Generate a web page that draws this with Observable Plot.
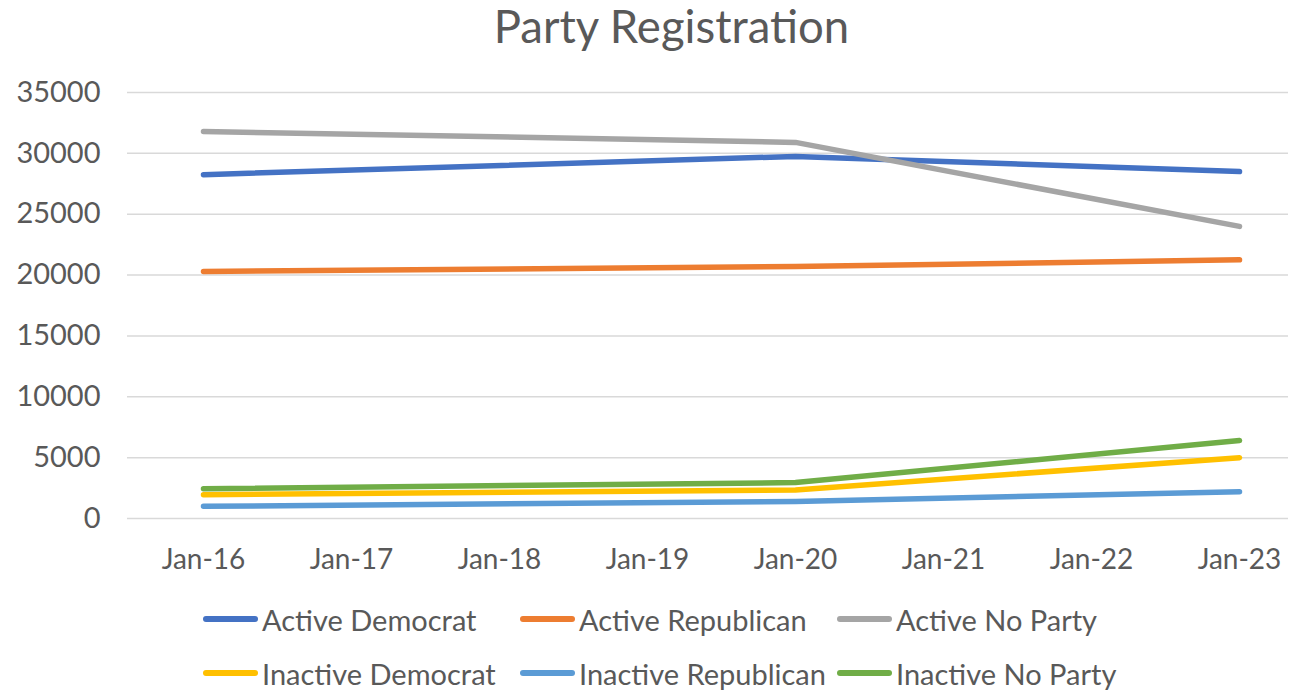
<!DOCTYPE html>
<html>
<head>
<meta charset="utf-8">
<script src="https://cdn.jsdelivr.net/npm/d3@7"></script>
<script src="https://cdn.jsdelivr.net/npm/@observablehq/plot@0.6"></script>
<style>
  html, body { margin: 0; padding: 0; background: #fff; width: 1291px; height: 690px; overflow: hidden; }
  body { font-family: Lato, "Open Sans", sans-serif; color: #595959; position: relative; }
  #title { position: absolute; top: 0; left: 0; width: 1291px; height: 56px; font-size: 45.5px; line-height: 52px; text-align: center; padding-left: 52px; box-sizing: border-box; color: #595959; }
  #chart { position: absolute; top: 60px; left: 0; }
  #legend { position: absolute; top: 598px; left: 203px; display: grid; grid-template-columns: 317px 317px 317px; row-gap: 12px; }
  .item { display: flex; align-items: center; height: 42px; font-size: 29px; color: #595959; white-space: nowrap; }
  .sw { width: 55px; height: 6px; border-radius: 3px; margin-right: 4px; flex: none; }
</style>
</head>
<body>
<div id="title">Party Registration</div>
<div id="chart"></div>
<div id="legend"></div>
<script>
const categories = ["Jan-16", "Jan-17", "Jan-18", "Jan-19", "Jan-20", "Jan-21", "Jan-22", "Jan-23"];
const dataDates = ["Jan-16", "Jan-20", "Jan-23"];
const seriesNames = ["Active Democrat", "Active Republican", "Active No Party", "Inactive Democrat", "Inactive Republican", "Inactive No Party"];
const seriesColors = ["#4472C4", "#ED7D31", "#A5A5A5", "#FFC000", "#5B9BD5", "#70AD47"];
const activeDemocrat = [28250, 29750, 28500];
const activeRepublican = [20300, 20700, 21250];
const activeNoParty = [31800, 30900, 24000];
const inactiveDemocrat = [1950, 2350, 5000];
const inactiveRepublican = [1000, 1400, 2200];
const inactiveNoParty = [2450, 2950, 6400];
const yTicks = [0, 5000, 10000, 15000, 20000, 25000, 30000, 35000];

const seriesValues = [activeDemocrat, activeRepublican, activeNoParty, inactiveDemocrat, inactiveRepublican, inactiveNoParty];
const rows = [];
seriesNames.forEach((name, i) => {
  dataDates.forEach((d, j) => rows.push({series: name, date: d, value: seriesValues[i][j]}));
});

const chart = Plot.plot({
  width: 1291,
  height: 530,
  marginLeft: 127,
  marginRight: 3,
  marginTop: 32,
  marginBottom: 72,
  style: {fontFamily: "Lato, 'Open Sans', sans-serif", fontSize: "29px", color: "#595959", background: "white"},
  x: {type: "point", domain: categories, range: [201, 1240], padding: 0, label: null},
  y: {domain: [0, 35000], label: null},
  color: {domain: seriesNames, range: seriesColors},
  marks: [
    Plot.ruleY(yTicks, {stroke: "#D9D9D9", strokeWidth: 1.5}),
    Plot.axisY(yTicks, {tickSize: 0, tickPadding: 27, tickFormat: d => String(d), fill: "#595959", fontSize: 29, label: null}),
    Plot.axisX(categories, {tickSize: 0, tickPadding: 31, fill: "#595959", fontSize: 28, label: null}),
    Plot.line(rows, {x: "date", y: "value", z: "series", stroke: "series", strokeWidth: 5.5, strokeLinecap: "round", strokeLinejoin: "round"})
  ]
});
document.getElementById("chart").appendChild(chart);

const legend = document.getElementById("legend");
seriesNames.forEach((name, i) => {
  const it = document.createElement("div");
  it.className = "item";
  const sw = document.createElement("span");
  sw.className = "sw";
  sw.style.background = seriesColors[i];
  const tx = document.createElement("span");
  tx.textContent = name;
  it.appendChild(sw);
  it.appendChild(tx);
  legend.appendChild(it);
});
</script>
</body>
</html>
